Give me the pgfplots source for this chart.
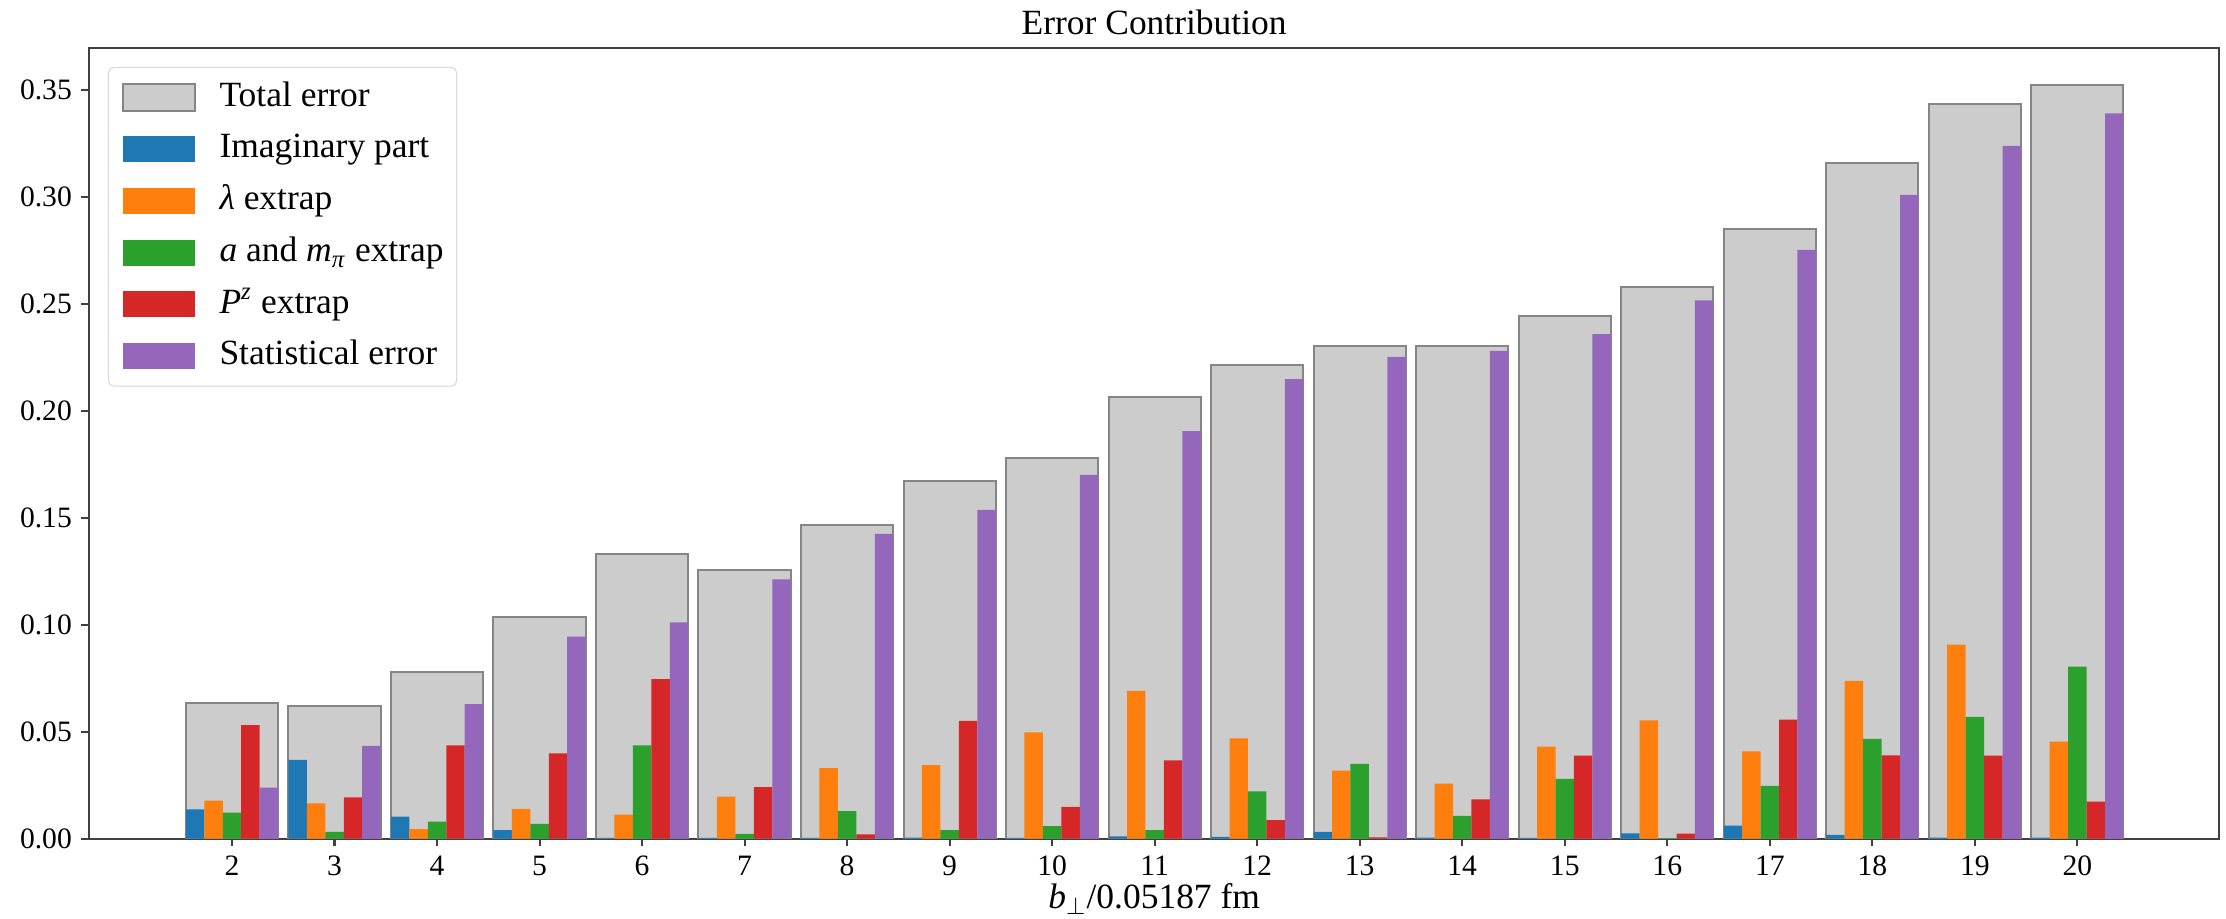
\documentclass[border=0pt]{standalone}
\usepackage{fontspec}
\setmainfont{Liberation Serif}
\usepackage{pgfplots}
\usepackage{pgfplotstable}
\pgfplotsset{compat=1.18}

\definecolor{tabblue}{HTML}{1F77B4}
\definecolor{taborange}{HTML}{FF7F0E}
\definecolor{tabgreen}{HTML}{2CA02C}
\definecolor{tabred}{HTML}{D62728}
\definecolor{tabpurple}{HTML}{9467BD}
\definecolor{totfill}{HTML}{CCCCCC}
\definecolor{totedge}{HTML}{858585}

% b  total  imaginary  lambda  a-mpi  Pz  statistical
\pgfplotstableread{
b  tot    imag   lam    amp    pz     stat
2  0.0636 0.0137 0.0178 0.0121 0.0531 0.0238
3  0.0621 0.0368 0.0165 0.0031 0.0193 0.0433
4  0.0779 0.0103 0.0044 0.0079 0.0436 0.0629
5  0.1037 0.0040 0.0139 0.0069 0.0399 0.0944
6  0.1332 0.0004 0.0112 0.0436 0.0745 0.1011
7  0.1255 0.0003 0.0196 0.0022 0.0241 0.1212
8  0.1467 0.0003 0.0330 0.0129 0.0020 0.1424
9  0.1671 0.0005 0.0344 0.0040 0.0550 0.1537
10 0.1780 0.0004 0.0497 0.0059 0.0148 0.1700
11 0.2062 0.0010 0.0690 0.0040 0.0366 0.1905
12 0.2213 0.0008 0.0469 0.0221 0.0087 0.2148
13 0.2304 0.0031 0.0318 0.0349 0.0006 0.2252
14 0.2304 0.0005 0.0257 0.0106 0.0184 0.2280
15 0.2444 0.0003 0.0430 0.0279 0.0388 0.2358
16 0.2579 0.0025 0.0553 0.0002 0.0023 0.2516
17 0.2847 0.0061 0.0408 0.0246 0.0556 0.2751
18 0.3156 0.0017 0.0737 0.0466 0.0389 0.3008
19 0.3431 0.0005 0.0907 0.0569 0.0388 0.3237
20 0.3520 0.0005 0.0453 0.0804 0.0173 0.3389
}\errtable

\pgfplotsset{
  totlegend/.style={legend image code/.code={\draw[##1, sharp corners] (0pt,-4.9pt) rectangle (27pt,4.9pt);}},
  sub/.style={ybar, bar width=0.18, bar shift=#1, draw=none,
    legend image code/.code={\fill[##1, draw=none, sharp corners] (0pt,-4.9pt) rectangle (27pt,4.9pt);}},
}

\begin{document}
\begin{tikzpicture}
\useasboundingbox (-33.375pt,-30.1pt) rectangle (801.4pt,314.5pt);
\begin{axis}[
  at={(0pt,0pt)}, anchor=south west,
  scale only axis, width=798.9pt, height=296.5pt,
  xmin=0.605, xmax=21.385, ymin=0, ymax=0.3695,
  xtick={2,3,...,20},
  ytick={0,0.05,0.1,0.15,0.2,0.25,0.3,0.35},
  xtick pos=bottom, ytick pos=left,
  yticklabel style={/pgf/number format/.cd, fixed, fixed zerofill, precision=2},
  /pgf/number format/assume math mode=true,
  ticklabel style={font=\fontsize{11.1}{13}\selectfont},
  tick align=outside, major tick length=2.9pt,
  tick style={line width=0.8pt, color=black!75},
  axis line style={line width=0.8pt, color=black!75},
  title={Error Contribution},
  title style={font=\fontsize{13.3}{16}\selectfont, at={(0.5,1)}, anchor=base, yshift=-1pt},
  xlabel={\textit{b}$_{\perp}$/0.05187 fm},
  xlabel style={font=\fontsize{13.3}{16}\selectfont, at={(axis description cs:0.5,0)}, anchor=base, yshift=-26.3pt},
  legend cell align=left,
  legend style={at={(0,1)}, anchor=north west, xshift=7.1pt, yshift=-7.1pt,
    draw=black!15, rounded corners=2pt, fill=white,
    font=\fontsize{13.3}{16}\selectfont,
    inner xsep=4.9pt, inner ysep=5pt, row sep=6.9pt, column sep=9pt,
    nodes={inner xsep=0pt, inner ysep=0pt, text height=9.5pt, text depth=3pt}},
]
\addplot[ybar, bar width=0.9, bar shift=0, fill=totfill, draw=totedge, line width=0.75pt, totlegend]
  table[x=b, y=tot] {\errtable};
\addlegendentry{Total error}
\addplot[sub=-0.36, fill=tabblue] table[x=b, y=imag] {\errtable};
\addlegendentry{Imaginary part}
\addplot[sub=-0.18, fill=taborange] table[x=b, y=lam] {\errtable};
\addlegendentry{\textit{λ} extrap}
\addplot[sub=0, fill=tabgreen] table[x=b, y=amp] {\errtable};
\addlegendentry{\textit{a} and \textit{m}\textsubscript{\textit{π}} extrap}
\addplot[sub=0.18, fill=tabred] table[x=b, y=pz] {\errtable};
\addlegendentry{\textit{P}\textsuperscript{\textit{z}} extrap}
\addplot[sub=0.36, fill=tabpurple] table[x=b, y=stat] {\errtable};
\addlegendentry{Statistical error}
\end{axis}
\end{tikzpicture}
\end{document}
